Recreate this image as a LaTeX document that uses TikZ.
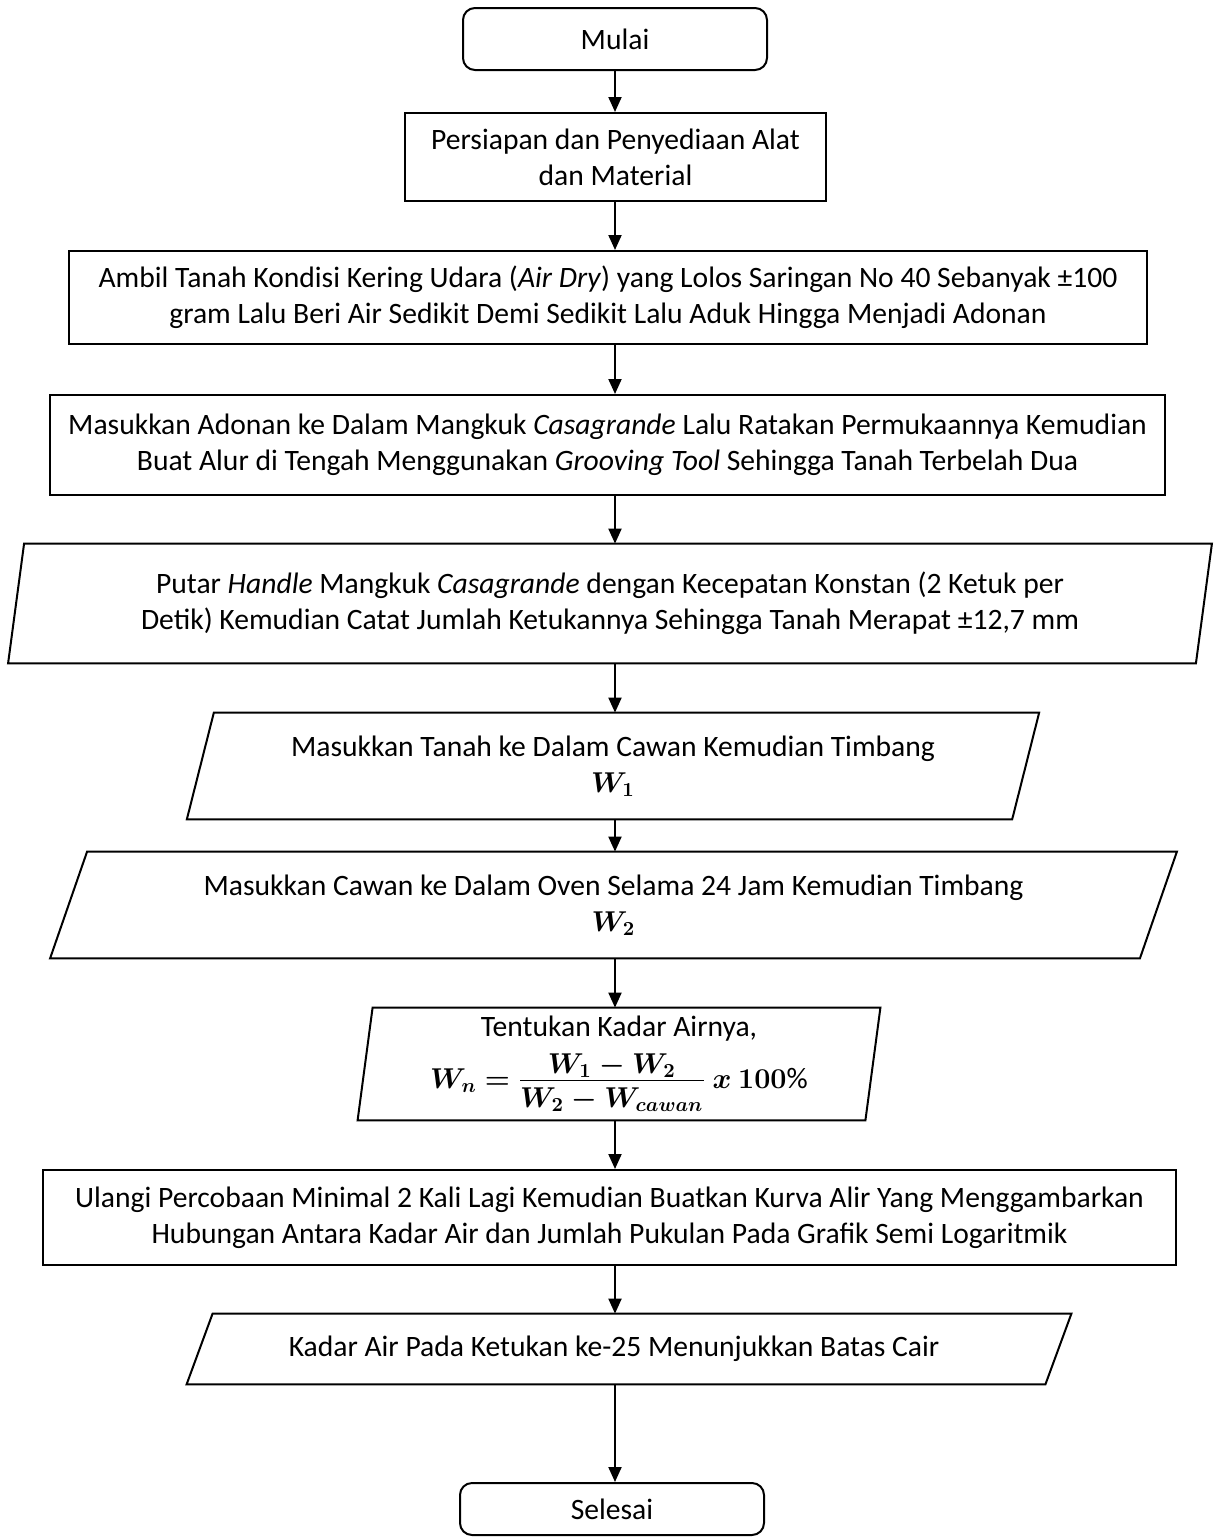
\documentclass[tikz,border=0pt]{standalone}
\usepackage{amsmath}
\usepackage{bm}
\usepackage{fontspec}
\setmainfont{Carlito}
\usetikzlibrary{arrows.meta}
% Jajaran genjang : #1 nom du noeud, #2 demi-decalage horizontal
\newcommand{\jajar}[2]{\draw[line width=1bp] ([xshift=#2]#1.north west) -- ([xshift=#2]#1.north east) -- ([xshift=-#2]#1.south east) -- ([xshift=-#2]#1.south west) -- cycle;}
\begin{document}
\begin{tikzpicture}[x=0.5bp,y=-0.5bp,
  every node/.style={font=\fontsize{14.8bp}{18bp}\selectfont, align=center, inner sep=0pt},
  mulaiselesai/.style={draw, line width=1bp, rounded corners=6bp, minimum width=152bp},
  kotak/.style={draw, line width=1bp},
  io/.style={},
  panah/.style={line width=1bp, -{Triangle[length=7.5bp,width=6.5bp]}}]
\useasboundingbox (0,0) rectangle (1217,1538);
% Debut et preparation
\node[mulaiselesai, minimum height=31bp] (mulai) at (615,39) {Mulai};
\node[kotak, minimum width=210.5bp, minimum height=44bp] (persiapan) at (615.5,157) {Persiapan dan Penyediaan Alat\\dan Material};
\node[kotak, minimum width=539bp, minimum height=46.5bp] (ambil) at (608,297.5) {Ambil Tanah Kondisi Kering Udara (\textit{Air Dry}) yang Lolos Saringan No 40 Sebanyak ±100\\gram Lalu Beri Air Sedikit Demi Sedikit Lalu Aduk Hingga Menjadi Adonan};
\node[kotak, minimum width=557.5bp, minimum height=50bp] (adonan) at (607.5,445) {Masukkan Adonan ke Dalam Mangkuk \textit{Casagrande} Lalu Ratakan Permukaannya Kemudian\\Buat Alur di Tengah Menggunakan \textit{Grooving Tool} Sehingga Tanah Terbelah Dua};
% Les parallelogrammes
\node[io, minimum width=593.5bp, minimum height=59.5bp] (putar) at (610,603.5) {Putar \textit{Handle} Mangkuk \textit{Casagrande} dengan Kecepatan Konstan (2 Ketuk per\\Detik) Kemudian Catat Jumlah Ketukannya Sehingga Tanah Merapat ±12,7 mm};
\jajar{putar}{4bp}
\node[io, minimum width=412.25bp, minimum height=53bp] (tanah) at (613,766) {Masukkan Tanah ke Dalam Cawan Kemudian Timbang\\$\bm{W_1}$};
\jajar{tanah}{6.75bp}
\node[io, minimum width=544.5bp, minimum height=53bp] (cawan) at (613.5,905) {Masukkan Cawan ke Dalam Oven Selama 24 Jam Kemudian Timbang\\$\bm{W_2}$};
\jajar{cawan}{9.25bp}
% fraction serree : on force l'ecart avec des regles invisibles
\node[io, minimum width=253.5bp, minimum height=56bp] (kadar) at (619,1064) {Tentukan Kadar Airnya,\\[5bp]$\bm{W_n=\frac{\displaystyle W_1-W_2\rule[-3bp]{0pt}{3bp}}{\displaystyle W_2-W_{cawan}\rule{0pt}{12.5bp}}\ x\ 100}\%$};
\jajar{kadar}{3.75bp}
\node[kotak, minimum width=566.5bp, minimum height=47.5bp] (ulangi) at (609.5,1217.5) {Ulangi Percobaan Minimal 2 Kali Lagi Kemudian Buatkan Kurva Alir Yang Menggambarkan\\Hubungan Antara Kadar Air dan Jumlah Pukulan Pada Grafik Semi Logaritmik};
% le texte est un peu a gauche du milieu de la boite
\node[io, minimum width=429bp, minimum height=35bp] (bataS) at (629,1349) {Kadar Air Pada Ketukan ke-25 Menunjukkan Batas Cair\hspace*{15bp}};
\jajar{bataS}{6.5bp}
\node[mulaiselesai, minimum height=26bp] (selesai) at (612,1509) {Selesai};
% Les fleches, toutes sur la meme verticale
\foreach \a/\b in {mulai/persiapan,persiapan/ambil,ambil/adonan,adonan/putar,putar/tanah,tanah/cawan,cawan/kadar,kadar/ulangi,ulangi/bataS,bataS/selesai}
  \draw[panah] (\a.south -| mulai.south) -- (\b.north -| mulai.south);
\end{tikzpicture}
\end{document}
